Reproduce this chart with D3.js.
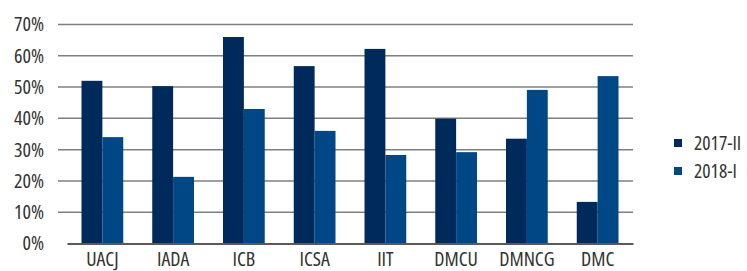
<!DOCTYPE html>
<html>
<head>
<meta charset="utf-8">
<script src="https://cdn.jsdelivr.net/npm/d3@7"></script>
<style>
  body { margin: 0; background: #fff; }
  svg { display: block; }
  svg text { font-family: "Open Sans", sans-serif; font-stretch: condensed; }
  .tick text { fill: #333; font-size: 20px; }
  .legend text { fill: #333; font-size: 19.5px; }
</style>
</head>
<body>
<svg width="747" height="271"></svg>
<script>
const categories = ["UACJ", "IADA", "ICB", "ICSA", "IIT", "DMCU", "DMNCG", "DMC"];
const seriesNames = ["2017-II", "2018-I"];
const values2017 = [52, 50.3, 66, 56.7, 62.2, 39.9, 33.5, 13.3];
const values2018 = [34, 21.3, 43, 36, 28.3, 29.2, 49.1, 53.5];
const yTicks = [0, 10, 20, 30, 40, 50, 60, 70];
const colors = ["#002a5c", "#004786"];

const svg = d3.select("svg"),
    margin = {top: 24.5, right: 114, bottom: 27.5, left: 67},
    width = 747 - margin.left - margin.right,
    height = 271 - margin.top - margin.bottom;

const x0 = d3.scaleBand().domain(categories).range([0, width]).paddingInner(0.41).paddingOuter(0.205);
const x1 = d3.scaleBand().domain(seriesNames).range([0, x0.bandwidth()]);
const y = d3.scaleLinear().domain([0, 70]).range([height, 0]);

const g = svg.append("g")
    .attr("transform", "translate(" + margin.left + "," + margin.top + ")");

// gridlines
g.append("g")
    .selectAll("line")
    .data(yTicks.slice(1))
    .enter().append("line")
    .attr("x1", -9)
    .attr("x2", width)
    .attr("y1", d => y(d))
    .attr("y2", d => y(d))
    .attr("stroke", "#7f7f7f")
    .attr("stroke-width", 1.5);

// y labels
g.append("g")
    .call(d3.axisLeft(y).tickValues(yTicks).tickFormat(d => d + "%").tickSize(0).tickPadding(23))
    .call(s => s.select(".domain").remove())
    .selectAll("text").attr("dy", "0.32em");

const data = categories.map((c, i) => ({cat: c, vals: [values2017[i], values2018[i]]}));

const groups = g.selectAll(".cat")
    .data(data)
    .enter().append("g")
    .attr("class", "cat")
    .attr("transform", d => "translate(" + x0(d.cat) + ",0)");

groups.selectAll("rect")
    .data(d => d.vals.map((v, i) => ({name: seriesNames[i], v: v, i: i})))
    .enter().append("rect")
    .attr("x", d => x1(d.name))
    .attr("y", d => y(d.v))
    .attr("width", x1.bandwidth())
    .attr("height", d => height - y(d.v))
    .attr("fill", d => colors[d.i]);

// x axis
g.append("g")
    .attr("transform", "translate(0," + height + ")")
    .call(d3.axisBottom(x0).tickSize(0).tickPadding(8))
    .call(s => s.select(".domain").attr("stroke", "#595959").attr("stroke-width", 2));

// legend
const legend = svg.append("g").attr("class", "legend")
    .attr("transform", "translate(674,139)");

legend.selectAll("rect")
    .data(seriesNames)
    .enter().append("rect")
    .attr("x", 0)
    .attr("y", (d, i) => i * 28)
    .attr("width", 8)
    .attr("height", 8)
    .attr("fill", (d, i) => colors[i]);

legend.selectAll("text")
    .data(seriesNames)
    .enter().append("text")
    .attr("x", 20)
    .attr("y", (d, i) => i * 28 + 4)
    .attr("dy", "0.35em")
    .text(d => d);
</script>
</body>
</html>
